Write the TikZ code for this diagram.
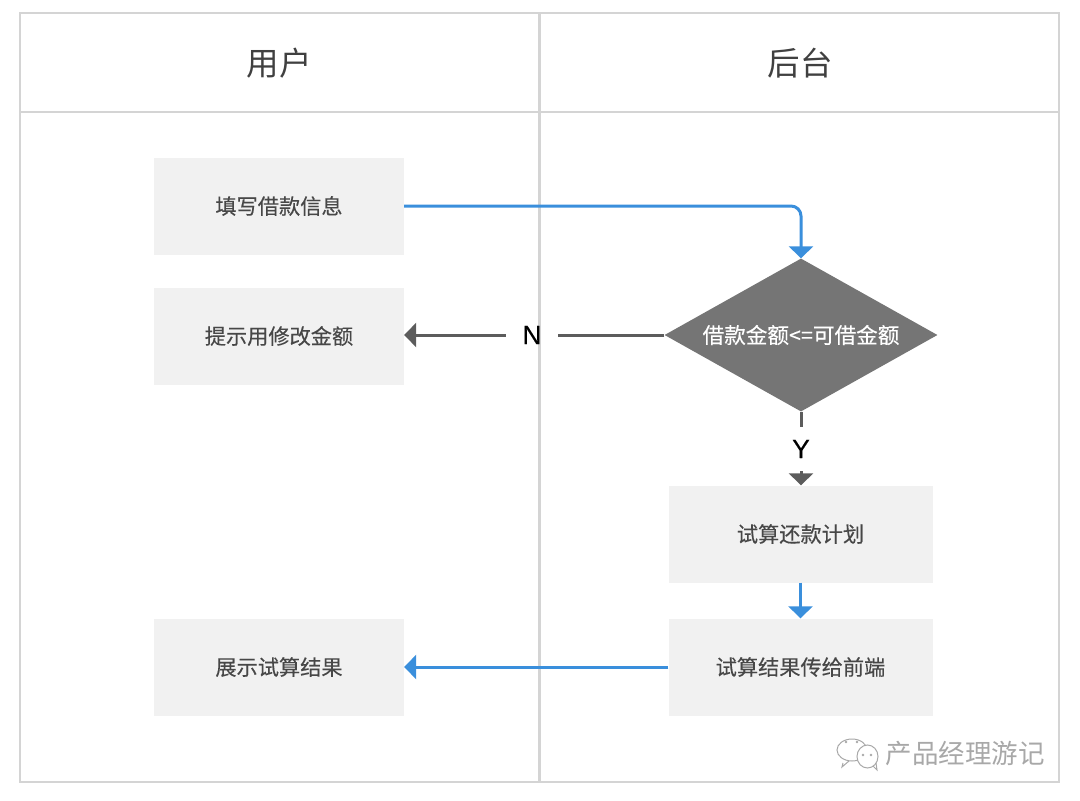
\documentclass[tikz,border=0pt]{standalone}
\usepackage{fontspec}
\setmainfont{Noto Sans CJK SC}
\newfontfamily\latinfont{Liberation Sans}
\usetikzlibrary{arrows.meta,positioning,shapes.geometric}
\definecolor{lanegray}{HTML}{D4D4D4}
\definecolor{boxgray}{HTML}{F1F1F1}
\definecolor{flowblue}{HTML}{3A8FDC}
\definecolor{flowdark}{HTML}{5C5C5C}
\definecolor{condgray}{HTML}{757575}
\definecolor{markgray}{HTML}{A8A8A8}
\tikzset{
  lane/.style={draw=lanegray,line width=1.6pt},
  head/.style={font=\fontsize{32.5}{32.5}\selectfont,text=black!75},
  action/.style={rectangle,fill=boxgray,text=black!72,minimum height=97pt,font=\fontsize{21.2}{21.2}\selectfont\addfontfeature{FakeBold=0.25}},
  cond/.style={diamond,aspect=1.784,fill=condgray,text=white,inner sep=0pt,minimum width=273pt,minimum height=153pt,font=\fontsize{21.6}{21.6}\selectfont\addfontfeature{FakeBold=0.25}},
  blueflow/.style={draw=flowblue,line width=3pt,-{Triangle[length=12pt,width=24pt]},rounded corners=10pt},
  darkflow/.style={draw=flowdark,line width=3pt},
  darkend/.style={darkflow,-{Triangle[length=12pt,width=24pt]}},
  answer/.style={inner sep=0pt,text=black,font=\latinfont\fontsize{26.5}{26.5}\selectfont\addfontfeature{FakeBold=0.3}}
}
\begin{document}
\begin{tikzpicture}[x=1pt,y=-1pt]
        \useasboundingbox (0,0) rectangle (1080,801);
        % swim lanes
        \draw[lane] (20,13) rectangle (1059,782);
        \draw[lane] (20,112) -- (1059,112);
        \draw[lane,line width=3pt] (539.5,13) -- (539.5,782);
        \node[head] (user) at (279,63) {用户};
        \node[head] (server) at (800,63) {后台};
        % steps
        \node[action,minimum width=250pt] (fill) at (279,206) {填写借款信息};
        \node[action,minimum width=250pt] (hint) at (279,336) {提示用修改金额};
        \node[action,minimum width=250pt] (show) at (279,667) {展示试算结果};
        \node[cond] (check) at (801,335) {借款金额<=可借金额};
        \node[action,minimum width=264pt] (plan) at (800.5,534) {试算还款计划};
        \node[action,minimum width=264pt] (send) at (800.5,667) {试算结果传给前端};
        % answers
        \node[answer,minimum width=52pt,minimum height=30pt] (no) at (532,335) {N};
        \node[answer,minimum width=30pt,minimum height=44pt] (yes) at (801,449) {Y};
        % flows
        \draw[blueflow] (fill.east) -| (check.north);
        \draw[darkflow] (check.west) -- (no);
        \draw[darkend] (no) -- (hint.east |- no);
        \draw[darkflow] (check.south) -- (yes);
        \draw[darkend] (yes) -- (plan.north -| yes);
        \draw[blueflow] (plan) -- (send);
        \draw[blueflow] (send) -- (show);
        % watermark
        \draw[markgray,line width=1pt] (843,763) -- (842,767) -- (849,761);
        \draw[markgray,line width=1pt] (852,750) ellipse (15pt and 11pt);
        \draw[markgray,line width=1pt,fill=white] (867.5,756.5) ellipse (10.5pt and 11.5pt);
        \draw[markgray,line width=1pt] (873,766) -- (877,770) -- (876,763);
        \foreach \ex/\ey in {846/742,857/742,863/755,871/755}
          \fill[markgray] (\ex,\ey) circle (1.3pt);
        \node[text=markgray,font=\fontsize{26.5}{26.5}\selectfont] (mark) at (965,754) {产品经理游记};
\end{tikzpicture}
\end{document}
